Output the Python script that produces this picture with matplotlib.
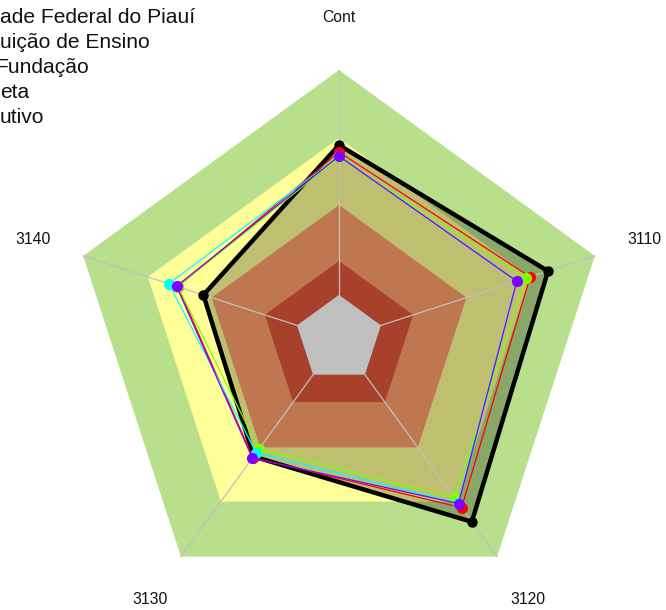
import numpy as np
import matplotlib
matplotlib.use("Agg")
import matplotlib.pyplot as plt

plt.rcParams['font.family'] = ['Liberation Sans', 'DejaVu Sans']

# axes (clockwise from top)
axes_labels = ["Cont", "3110", "3120", "3130", "3140"]

# background bands (outer limit of each band, in % of max radius)
band_limits = [100, 74.7, 49.8, 29.0, 16.4]
band_colors = ["#b8e08c", "#ffff99", "#ffa06a", "#e0583a", "#ffffff"]

# series values (% of max radius)
series_names = ["Universidade Federal do Piauí", "Instituição de Ensino",
                "Fundação", "Administração Direta", "Poder Executivo"]
legend_fragments = ["ade Federal do Piauí", "uição de Ensino", "Fundação", "eta", "utivo"]
legend_offsets = [0, 0, -5, 0, 0]
v_black = [72.1, 81.7, 84.0, 54.0, 53.0]
v_red = [69.5, 74.7, 77.5, 54.5, 63.0]
v_green = [67.5, 73.0, 73.0, 50.6, 63.0]
v_cyan = [68.0, 69.5, 75.3, 52.3, 66.5]
v_purple = [68.0, 69.5, 75.6, 54.8, 63.5]

W, H = 666, 610
cx, cy_top, R = 339.0, 339.0, 269.0

fig = plt.figure(figsize=(W / 100, H / 100), dpi=100)
ax = fig.add_axes([0, 0, 1, 1])
ax.set_xlim(-cx / R, (W - cx) / R)
ax.set_ylim(-(H - cy_top) / R, cy_top / R)
ax.axis("off")

n = len(axes_labels)
theta = np.pi / 2 - np.arange(n) * 2 * np.pi / n


def xy(vals):
    r = np.asarray(vals, dtype=float) / 100.0
    x = r * np.cos(theta)
    y = r * np.sin(theta)
    return np.append(x, x[0]), np.append(y, y[0])


# bands
for lim, col in zip(band_limits, band_colors):
    x, y = xy([lim] * n)
    ax.fill(x, y, color=col, lw=0, zorder=1)

# black series fill
xb, yb = xy(v_black)
ax.fill(xb, yb, color="black", alpha=0.25, lw=0, zorder=2)

# spokes
for t in theta:
    ax.plot([0, np.cos(t)], [0, np.sin(t)], color="#c0c0c0", lw=0.9, zorder=3)

ax.plot(xb, yb, color="black", lw=3.2, zorder=4, solid_joinstyle="miter")
ax.plot(xb[:-1], yb[:-1], "o", color="black", ms=6.5, zorder=4)

for vals, col in [(v_red, "#ff0000"), (v_green, "#80ff00"),
                  (v_cyan, "#00ffff"), (v_purple, "#8000ff")]:
    x, y = xy(vals)
    ax.plot(x, y, color=col, lw=0.9, zorder=5)
    ax.plot(x[:-1], y[:-1], "o", color=col, ms=7, zorder=5)

# axis labels
lab_r = 1.195
for lab, t in zip(axes_labels, theta):
    ax.text(lab_r * np.cos(t), lab_r * np.sin(t), lab, ha="center", va="center",
            fontsize=11.3, color="#111111", zorder=6)

# legend text (cropped at the left edge)
for i, (frag, off) in enumerate(zip(legend_fragments, legend_offsets)):
    fig.text(off / W, 1 - (23 + 25 * i) / H, frag, ha="left", va="baseline",
             fontsize=15.1, color="#111111")

fig.savefig("out.png", dpi=100)
